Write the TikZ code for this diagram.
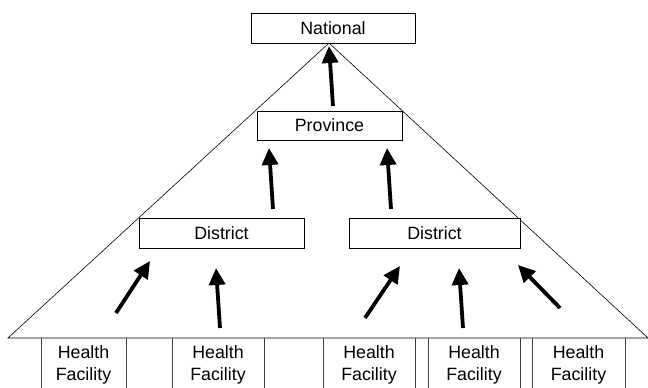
\documentclass[tikz,border=0pt]{standalone}
\usepackage{fontspec}
\setmainfont{Liberation Sans}
\usetikzlibrary{arrows.meta}
\begin{document}
\begin{tikzpicture}[x=1pt,y=-1pt,
  lvl/.style={draw=black, line width=0.8pt, fill=white, inner sep=0pt, font=\fontsize{17.8}{21.5}\selectfont},
  hf/.style={align=center, inner sep=0pt, font=\fontsize{17.8}{21.5}\selectfont},
  sep/.style={draw=black!75, line width=1pt},
  up/.style={line width=3.8pt, -{Triangle[width=16pt,length=17pt]}},
  tri/.style={draw=black, line width=0.6pt}]
\useasboundingbox (0,0) rectangle (648,388);
% triangle
\coordinate (apex) at (329,43);
\coordinate (bl) at (8,338);
\coordinate (br) at (648,338);
\draw[tri] (bl) -- (apex) -- (br) -- cycle;
% level boxes
\node[lvl, minimum width=164pt, minimum height=30pt] (nat) at (333,28) {National};
\node[lvl, minimum width=145pt, minimum height=29pt] (prov) at (329.5,125.5) {Province};
\node[lvl, minimum width=165pt, minimum height=30pt] (dl) at (221.5,233) {District};
\node[lvl, minimum width=171pt, minimum height=30pt] (dr) at (434.5,233) {District};
% health facilities
\foreach \n/\a/\b in {h1/41/126, h2/172/264, h3/323/415, h4/428/520, h5/532/625}{
  \node[hf] (\n) at ({(\a+\b)/2},365) {Health\\Facility};
  \coordinate (\n l) at (\a,338);
  \coordinate (\n r) at (\b,338);
  \draw[sep] (\n l) -- ++(0,52);
  \draw[sep] (\n r) -- ++(0,52);
}
% arrows
\coordinate (a0s) at (333,106); \coordinate (a0e) at (329,46);
\coordinate (a1s) at (273,209); \coordinate (a1e) at (269,148);
\coordinate (a2s) at (391,209); \coordinate (a2e) at (387,148);
\coordinate (a3s) at (116,313); \coordinate (a3e) at (150,261);
\coordinate (a4s) at (220,328); \coordinate (a4e) at (216,268);
\coordinate (a5s) at (365,318); \coordinate (a5e) at (400,266);
\coordinate (a6s) at (463,328); \coordinate (a6e) at (459,268);
\coordinate (a7s) at (560,308); \coordinate (a7e) at (518,265);
\foreach \i in {0,...,7}{\draw[up] (a\i s) -- (a\i e);}
\end{tikzpicture}
\end{document}
